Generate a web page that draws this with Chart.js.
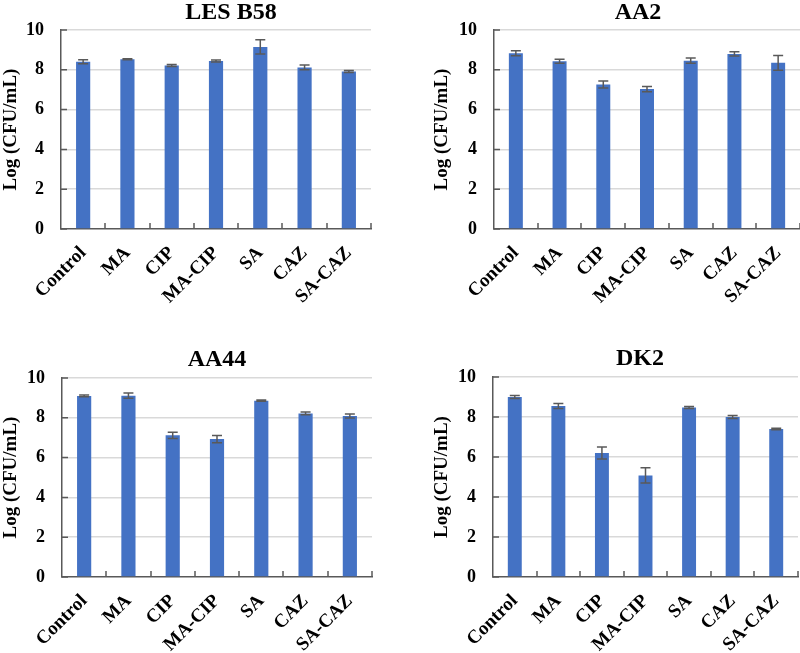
<!DOCTYPE html>
<html>
<head>
<meta charset="utf-8">
<script src="https://cdn.jsdelivr.net/npm/chart.js@4/dist/chart.umd.min.js"></script>
<style>
  body { margin: 0; background: #fff; }
  #wrap { position: relative; width: 800px; height: 653px; overflow: hidden; }
  .panel { position: absolute; }
  .ttl {
    position: absolute; font-family: 'Liberation Serif', 'Times New Roman', serif;
    font-weight: bold; font-size: 24px; line-height: 24px; color: #000;
    transform: translateX(-50%); white-space: nowrap;
  }
</style>
</head>
<body>
<div id="wrap">
  <canvas id="c1" class="panel" width="400" height="320" style="left:0;top:0"></canvas>
  <canvas id="c2" class="panel" width="400" height="320" style="left:400px;top:0"></canvas>
  <canvas id="c3" class="panel" width="400" height="333" style="left:0;top:320px"></canvas>
  <canvas id="c4" class="panel" width="400" height="333" style="left:400px;top:320px"></canvas>
  <div class="ttl" style="left:231px;top:-1px">LES B58</div>
  <div class="ttl" style="left:638px;top:-1px">AA2</div>
  <div class="ttl" style="left:217px;top:346px">AA44</div>
  <div class="ttl" style="left:640px;top:345px">DK2</div>
</div>
<script>
// 数据
const categories = ['Control', 'MA', 'CIP', 'MA-CIP', 'SA', 'CAZ', 'SA-CAZ'];
const yTicks = [0, 2, 4, 6, 8, 10];

const lesB58Values = [8.41, 8.53, 8.22, 8.44, 9.15, 8.12, 7.92];
const lesB58Errors = [0.10, 0.03, 0.05, 0.05, 0.36, 0.12, 0.05];

const aa2Values = [8.83, 8.43, 7.26, 7.03, 8.46, 8.80, 8.35];
const aa2Errors = [0.13, 0.10, 0.18, 0.13, 0.13, 0.11, 0.37];

const aa44Values = [9.10, 9.11, 7.12, 6.93, 8.86, 8.22, 8.09];
const aa44Errors = [0.04, 0.13, 0.16, 0.18, 0.03, 0.07, 0.10];

const dk2Values = [9.00, 8.55, 6.20, 5.08, 8.48, 8.00, 7.40];
const dk2Errors = [0.08, 0.12, 0.30, 0.38, 0.05, 0.08, 0.04];

const BAR = '#4472C4';
const AXIS = '#595959';
const GRID = '#D9D9D9';
const FONT = "'Liberation Serif', 'Times New Roman', serif";

/** 误差线 + 内侧刻度 */
const errorBarPlugin = {
  id: 'errorBars',
  afterDatasetsDraw(chart) {
    const ctx = chart.ctx;
    const y = chart.scales.y;
    const errs = chart.data.datasets[0].errors;
    const vals = chart.data.datasets[0].data;
    const meta = chart.getDatasetMeta(0);
    ctx.save();
    ctx.strokeStyle = AXIS;
    ctx.lineWidth = 1.5;
    meta.data.forEach((bar, i) => {
      const top = y.getPixelForValue(vals[i] + errs[i]);
      const bot = y.getPixelForValue(vals[i] - errs[i]);
      ctx.beginPath();
      ctx.moveTo(bar.x, top); ctx.lineTo(bar.x, bot);
      ctx.moveTo(bar.x - 5, top); ctx.lineTo(bar.x + 5, top);
      ctx.moveTo(bar.x - 5, bot); ctx.lineTo(bar.x + 5, bot);
      ctx.stroke();
    });
    // inside tick marks
    const area = chart.chartArea;
    const step = (area.right - area.left) / categories.length;
    ctx.beginPath();
    for (let i = 1; i <= categories.length; i++) {
      const px = Math.round(area.left + i * step);
      ctx.moveTo(px, area.bottom); ctx.lineTo(px, area.bottom - 6);
    }
    yTicks.forEach(v => {
      const py = y.getPixelForValue(v);
      ctx.moveTo(area.left, py); ctx.lineTo(area.left + 6, py);
    });
    ctx.stroke();
    ctx.restore();
  }
};

function makeChart(id, values, errors, box) {
  const canvas = document.getElementById(id);
  const H = canvas.height;
  return new Chart(canvas, {
    type: 'bar',
    data: {
      labels: categories,
      datasets: [{
        data: values,
        errors: errors,
        backgroundColor: BAR,
        borderWidth: 0,
        barPercentage: 0.32,
        categoryPercentage: 1
      }]
    },
    options: {
      responsive: false,
      animation: false,
      events: [],
      layout: { padding: { left: box.pad, top: box.top, right: box.right, bottom: 0 } },
      plugins: { legend: { display: false }, tooltip: { enabled: false }, title: { display: false } },
      scales: {
        x: {
          offset: true,
          grid: { display: true, color: 'rgba(0,0,0,0)', drawTicks: false, offset: true },
          border: { display: true, color: AXIS, width: 1.5 },
          ticks: {
            autoSkip: false, maxRotation: 45, minRotation: 45, padding: 13, color: '#000',
            font: { family: FONT, size: 19, weight: 'bold' }
          },
          afterFit(s) { s.height = H - box.bottom; s.paddingLeft = 0; s.paddingRight = 0; }
        },
        y: {
          min: 0, max: 10,
          afterBuildTicks(s) { s.ticks = yTicks.map(v => ({ value: v })); },
          grid: { color: c => c.tick && c.tick.value === 0 ? 'rgba(0,0,0,0)' : GRID, lineWidth: 1.5, drawTicks: false },
          border: { display: true, color: AXIS, width: 1.5 },
          ticks: { padding: 17, color: '#000', font: { family: FONT, size: 18, weight: 'bold' } },
          title: {
            display: true, text: 'Log (CFU/mL)', color: '#000', padding: 0,
            font: { family: FONT, size: 19, weight: 'bold' }
          },
          afterFit(s) { s.width = box.left - box.pad; }
        }
      }
    },
    plugins: [errorBarPlugin]
  });
}

makeChart('c1', lesB58Values, lesB58Errors, { pad: 0, left: 61, top: 30, right: 29, bottom: 229 });
makeChart('c2', aa2Values, aa2Errors, { pad: 31, left: 94, top: 30, right: 0, bottom: 229 });
makeChart('c3', aa44Values, aa44Errors, { pad: 0, left: 62, top: 58, right: 28, bottom: 257 });
makeChart('c4', dk2Values, dk2Errors, { pad: 31, left: 93, top: 57, right: 2, bottom: 257 });
</script>
</body>
</html>
